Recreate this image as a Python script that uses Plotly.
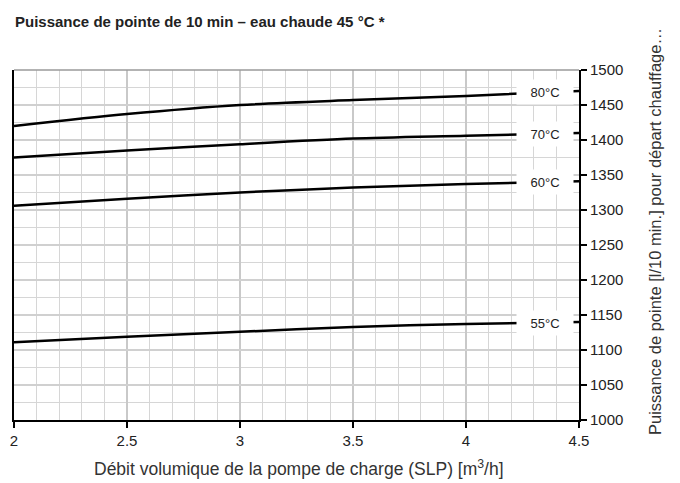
import numpy as np
import plotly.graph_objects as go

x_flow = [2.0, 2.5, 3.0, 3.5, 4.0, 4.5]
y_80 = [1420, 1437, 1450, 1457, 1463, 1470]
y_70 = [1375, 1385, 1394, 1402, 1406, 1410]
y_60 = [1306, 1316, 1325, 1332, 1337, 1341]
y_55 = [1111, 1119, 1126, 1133, 1137, 1140]
series_names = ["80°C", "70°C", "60°C", "55°C"]
series_values = [y_80, y_70, y_60, y_55]
label_x = 4.35

title_text = "Puissance de pointe de 10 min – eau chaude 45 °C *"
x_title = "Débit volumique de la pompe de charge (SLP) [m<sup>3</sup>/h]"
y_title = "Puissance de pointe [l/10 min.] pour départ chauffage…"

FONT = "Liberation Sans, Arial, sans-serif"

fig = go.Figure()
for name, vals in zip(series_names, series_values):
    fig.add_trace(go.Scatter(
        x=x_flow, y=vals, mode="lines", name=name,
        line=dict(color="#000000", width=2.5, shape="spline", smoothing=0.8),
        showlegend=False, hoverinfo="skip",
    ))
    fig.add_annotation(
        x=label_x, y=float(np.interp(label_x, x_flow, vals)),
        xref="x", yref="y", text=name, showarrow=False,
        font=dict(family=FONT, size=13, color="#222222"),
        bgcolor="#ffffff", width=50, height=18, borderpad=3,
    )

# the page body adds an 8px offset; plot area on screen: x 14..579, y 70..420
fig.update_layout(
    width=680, height=483,
    margin=dict(l=6, r=109, t=62, b=71, autoexpand=False),
    paper_bgcolor="#ffffff", plot_bgcolor="#ffffff",
    font=dict(family=FONT, size=15, color="#222222"),
)

PW, PH = 565.0, 350.0

def px(sx):
    return (sx - 14) / PW

def py(sy):
    return (420 - sy) / PH

fig.add_annotation(
    x=px(13), y=py(21), xref="paper", yref="paper", text="<b>" + title_text + "</b>",
    showarrow=False, xanchor="left", yanchor="middle",
    font=dict(family=FONT, size=15, color="#222222"),
)
fig.add_annotation(
    x=px(299), y=py(468), xref="paper", yref="paper",
    text=x_title, showarrow=False, xanchor="center", yanchor="middle",
    font=dict(family=FONT, size=17.5, color="#333333"),
)
fig.add_annotation(
    x=px(655), y=py(232), xref="paper", yref="paper",
    text=y_title, showarrow=False, textangle=-90, xanchor="center", yanchor="middle",
    font=dict(family=FONT, size=16.5, color="#333333"),
)

fig.update_xaxes(
    range=[2, 4.5], dtick=0.5, tick0=2, automargin=False,
    showgrid=True, gridcolor="#c9c9c9", gridwidth=2,
    minor=dict(dtick=0.1, showgrid=True, gridcolor="#d6d6d6", gridwidth=1.3, ticks=""),
    showline=True, linecolor="#000000", linewidth=2,
    ticks="outside", ticklen=6, tickcolor="#000000", tickwidth=1.5,
    tickfont=dict(size=15, color="#222222"),
    zeroline=False, fixedrange=True,
)
fig.update_yaxes(
    side="right", range=[1000, 1500], dtick=50, tick0=1000, automargin=False,
    showgrid=True, gridcolor="#d0d0d0", gridwidth=2,
    minor=dict(dtick=25, showgrid=True, gridcolor="#d6d6d6", gridwidth=1.3, ticks=""),
    showline=True, linecolor="#000000", linewidth=2, mirror=True,
    ticks="outside", ticklen=6, tickcolor="#000000", tickwidth=1.5,
    tickfont=dict(size=15, color="#222222"),
    zeroline=False, fixedrange=True,
)

fig.add_shape(type="line", xref="paper", yref="paper", x0=0, x1=1, y0=1, y1=1,
              line=dict(color="#9a9a9a", width=1.5))

fig.write_html("out.html")
